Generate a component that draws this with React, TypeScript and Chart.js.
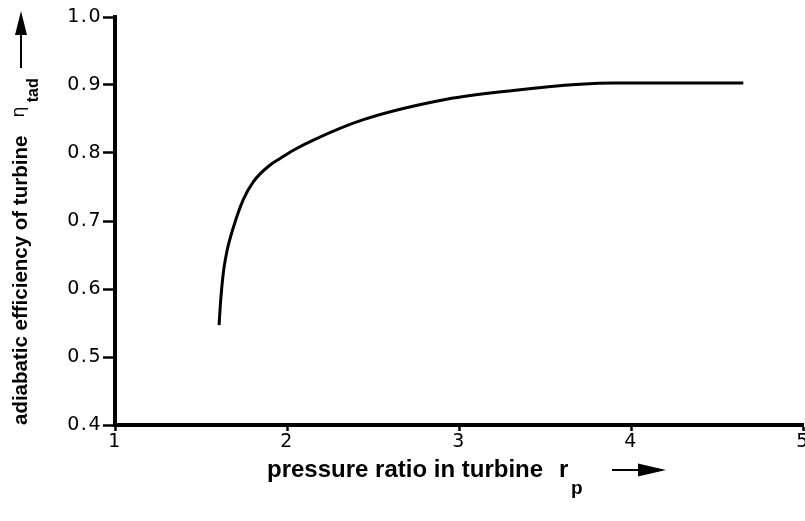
import React, { useEffect, useRef } from "react";
import { Chart, registerables } from "chart.js";

Chart.register(...registerables);

const pressureRatio = [1.605, 1.612, 1.62, 1.633, 1.652, 1.69, 1.745, 1.805, 1.9, 1.96, 2.037, 2.153, 2.444, 2.928, 3.316, 3.703, 3.897, 4.653];
const efficiency = [0.547, 0.575, 0.6, 0.63, 0.657, 0.692, 0.731, 0.758, 0.782, 0.792, 0.804, 0.819, 0.849, 0.879, 0.892, 0.901, 0.903, 0.903];
const xTicks = [1, 2, 3, 4, 5];
const yTicks = [0.4, 0.5, 0.6, 0.7, 0.8, 0.9, 1.0];

const xTitle = "pressure ratio in turbine";
const xSymbol = "r";
const xSub = "p";
const yTitle = "adiabatic efficiency of turbine";
const ySymbol = "η";
const ySub = "tad";

const textPlugin = {
  id: "customText",
  beforeDraw(chart: any) {
    chart.ctx.letterSpacing = "1.5px";
  },
  afterDraw(chart: any) {
    const ctx = chart.ctx as CanvasRenderingContext2D;
    ctx.save();
    (ctx as any).letterSpacing = "0px";
    ctx.fillStyle = "#000";
    ctx.strokeStyle = "#000";

    // Y title (rotated)
    ctx.save();
    ctx.translate(27, 425);
    ctx.rotate(-Math.PI / 2);
    ctx.textAlign = "left";
    ctx.textBaseline = "alphabetic";
    ctx.font = "bold 20.5px 'Liberation Sans', Arial, sans-serif";
    ctx.fillText(yTitle, 0, 0);
    const w = ctx.measureText(yTitle).width;
    ctx.font = "18px 'DejaVu Sans', sans-serif";
    ctx.fillText(ySymbol, w + 18, -3);
    const we = ctx.measureText(ySymbol).width;
    ctx.font = "bold 16px 'Liberation Sans', Arial, sans-serif";
    ctx.fillText(ySub, w + 18 + we + 4, 11);
    ctx.restore();

    // Y arrow
    ctx.lineWidth = 2;
    ctx.beginPath();
    ctx.moveTo(21, 68);
    ctx.lineTo(21, 32);
    ctx.stroke();
    ctx.beginPath();
    ctx.moveTo(21, 11);
    ctx.lineTo(15, 35);
    ctx.lineTo(27, 35);
    ctx.closePath();
    ctx.fill();

    // X title
    ctx.textAlign = "left";
    ctx.textBaseline = "alphabetic";
    ctx.font = "bold 24px 'Liberation Sans', Arial, sans-serif";
    ctx.fillText(xTitle, 267, 477);
    ctx.fillText(xSymbol, 559, 477);
    ctx.font = "bold 19px 'Liberation Sans', Arial, sans-serif";
    ctx.fillText(xSub, 571, 494);

    // X arrow
    ctx.beginPath();
    ctx.moveTo(612, 470);
    ctx.lineTo(642, 470);
    ctx.stroke();
    ctx.beginPath();
    ctx.moveTo(666, 470);
    ctx.lineTo(638, 463.5);
    ctx.lineTo(638, 476.5);
    ctx.closePath();
    ctx.fill();
    ctx.restore();
  },
};

export default function App() {
  const ref = useRef<HTMLCanvasElement>(null);
  useEffect(() => {
    const canvas = ref.current;
    if (!canvas) return;
    const chart = new Chart(canvas, {
      type: "line",
      data: {
        datasets: [
          {
            data: pressureRatio.map((x, i) => ({ x, y: efficiency[i] })),
            borderColor: "#000",
            borderWidth: 3,
            pointRadius: 0,
            fill: false,
            cubicInterpolationMode: "monotone",
          },
        ],
      },
      options: {
        responsive: false,
        animation: false,
        events: [],
        layout: { padding: { top: 17, right: 2, left: 0, bottom: 0 } },
        plugins: { legend: { display: false }, tooltip: { enabled: false }, title: { display: false } },
        scales: {
          x: {
            type: "linear",
            min: 1,
            max: 5,
            afterBuildTicks: (s: any) => {
              s.ticks = xTicks.map((v) => ({ value: v }));
            },
            afterFit: (s: any) => {
              s.height = 96;
              s.paddingLeft = 0;
              s.paddingRight = 0;
            },
            ticks: {
              color: "#000",
              font: { family: "'DejaVu Sans', sans-serif", size: 19 },
              padding: 0,
              maxRotation: 0,
              callback: (v: any) => String(v),
            },
            grid: { drawOnChartArea: false, tickLength: 6, tickWidth: 2.5, tickColor: "#000" },
            border: { display: true, color: "#000", width: 4 },
          },
          y: {
            type: "linear",
            min: 0.4,
            max: 1.0,
            afterBuildTicks: (s: any) => {
              s.ticks = yTicks.map((v) => ({ value: v }));
            },
            afterFit: (s: any) => {
              s.width = 115;
              s.paddingTop = 0;
              s.paddingBottom = 0;
            },
            ticks: {
              color: "#000",
              font: { family: "'DejaVu Sans', sans-serif", size: 19 },
              padding: 1,
              callback: (v: any) => Number(v).toFixed(1),
            },
            grid: { drawOnChartArea: false, tickLength: 12, tickWidth: 2.5, tickColor: "#000" },
            border: { display: true, color: "#000", width: 4 },
          },
        },
      },
      plugins: [textPlugin],
    });
    return () => chart.destroy();
  }, []);
  return (
    <div style={{ position: "absolute", left: 0, top: 0, width: 805, height: 521, background: "#fff" }}>
      <canvas ref={ref} width={805} height={521} style={{ display: "block" }} />
    </div>
  );
}
